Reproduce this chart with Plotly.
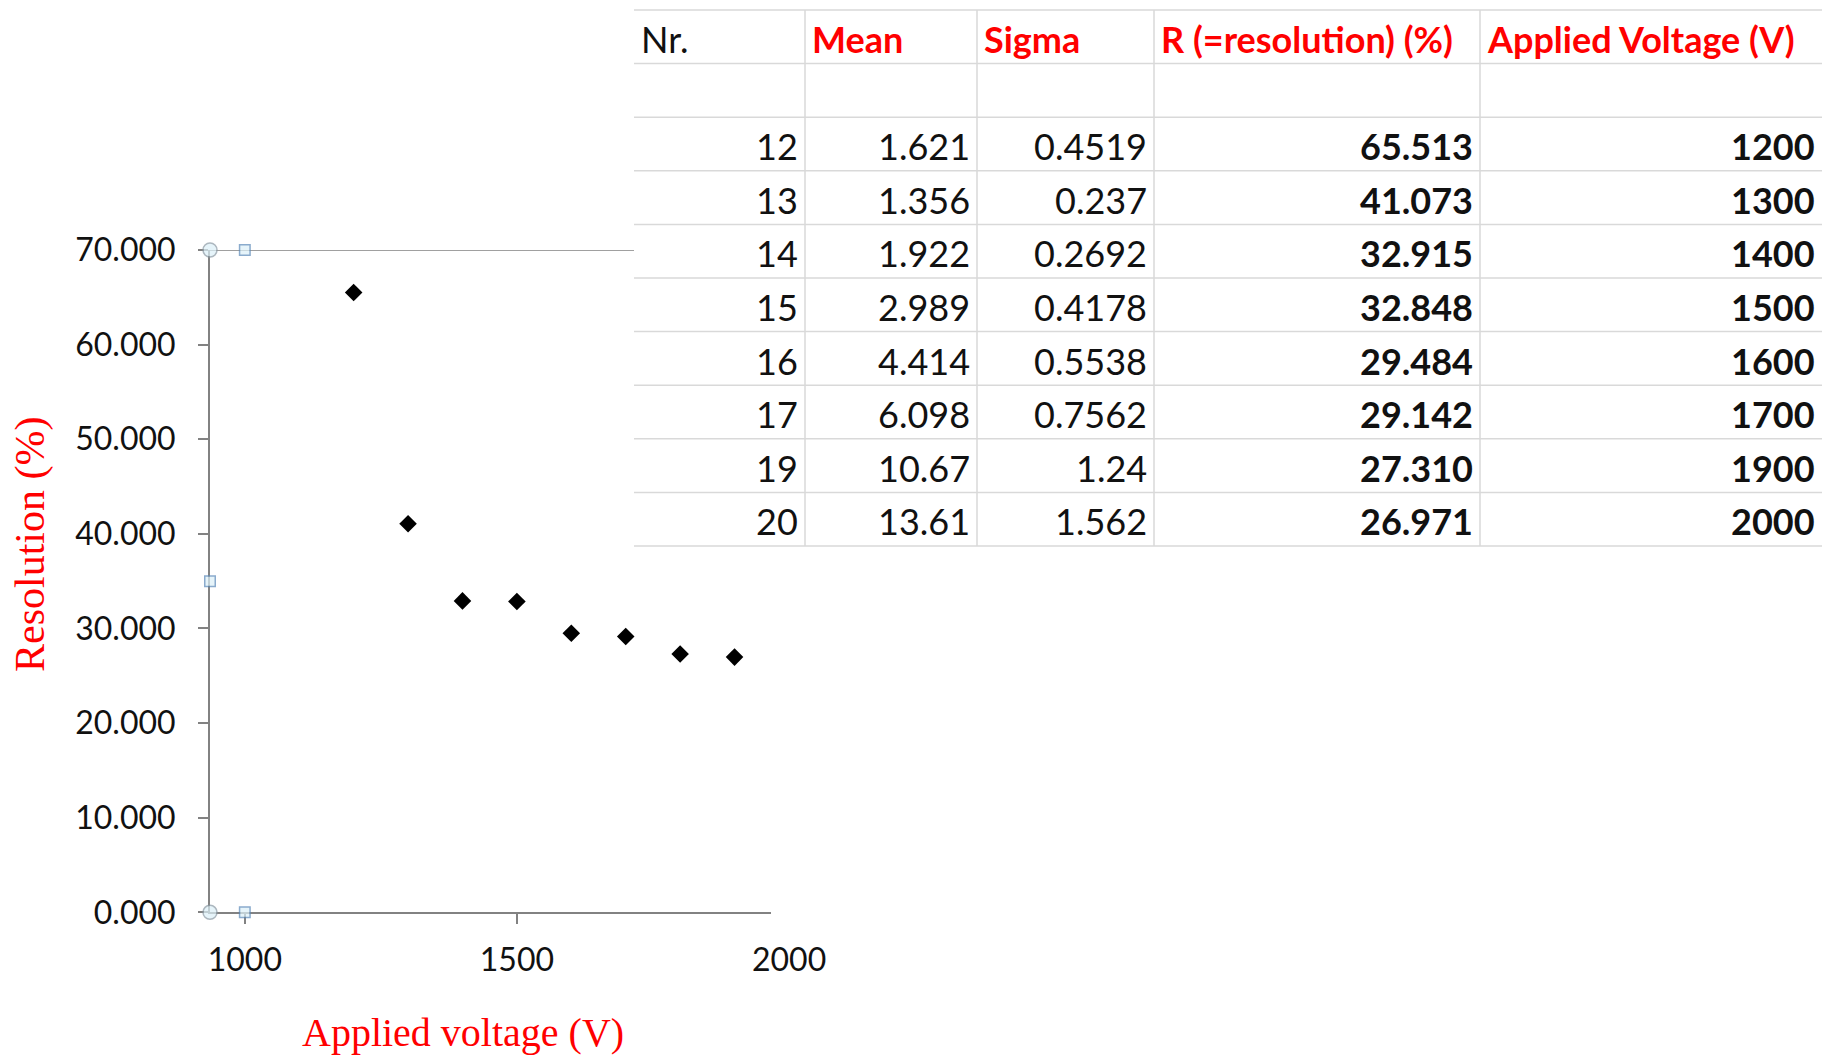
import plotly.graph_objects as go

# Measurement log, one entry per run
run_nr = [12, 13, 14, 15, 16, 17, 19, 20]
mean = [1.621, 1.356, 1.922, 2.989, 4.414, 6.098, 10.67, 13.61]
sigma = [0.4519, 0.237, 0.2692, 0.4178, 0.5538, 0.7562, 1.24, 1.562]
resolution = [65.513, 41.073, 32.915, 32.848, 29.484, 29.142, 27.310, 26.971]
applied_voltage = [1200, 1300, 1400, 1500, 1600, 1700, 1900, 2000]

# Voltages used as the x series of the scatter chart
chart_voltage = [1200, 1300, 1400, 1500, 1600, 1700, 1800, 1900]

headers = ["Nr.", "Mean", "Sigma", "R (=resolution) (%)", "Applied Voltage (V)"]

y_ticks = [0, 10, 20, 30, 40, 50, 60, 70]
x_ticks = [1000, 1500]
x_extra_label = 2000
x_range = [936, 1967]
y_range = [0, 70]

# ---- page geometry (pixels) ----
W, H = 1822, 1058


def px(x):
    return x / W


def py(y):
    return 1 - y / H


PLOT_L, PLOT_R = 210, 771
PLOT_T, PLOT_B = 250, 912.3
x_dom = [px(PLOT_L), px(PLOT_R)]
y_dom = [py(PLOT_B), py(PLOT_T)]

TABLE_COLS = [634, 805, 977, 1154, 1480, 1822]
TABLE_TOP = 10
ROW_H = 53.6
N_ROWS = 10  # header, blank spacer row, 8 data rows

AXIS_GREY = "#828282"
GRID_GREY = "#d9d9d9"
RED = "#ff0000"
TXT = "#111111"
NUM_FONT = "Lato"
SERIF = "Liberation Serif"
TICK_FS = 32

fig = go.Figure()

# Resolution vs. applied voltage
fig.add_trace(go.Scatter(
    x=chart_voltage, y=resolution, mode="markers",
    marker=dict(symbol="diamond", size=13.5, color="black", line=dict(width=0)),
    hoverinfo="x+y", showlegend=False,
))

# Selection handles of the plot area
handle_x = [x_range[0], 1000, x_range[0], x_range[0], 1000]
handle_y = [y_range[1], y_range[1], sum(y_range) / 2, y_range[0], y_range[0]]
handle_sym = ["circle", "square", "square", "circle", "square"]
handle_size = [14, 10.5, 10.5, 14, 10.5]
handle_edge = ["#8a99a4", "#5a88b8", "#5a88b8", "#8a99a4", "#5a88b8"]
fig.add_trace(go.Scatter(
    x=handle_x, y=handle_y, mode="markers", cliponaxis=False,
    marker=dict(symbol=handle_sym, size=handle_size, color="#dcf0f8",
                line=dict(color=handle_edge, width=1.5)),
    hoverinfo="skip", showlegend=False,
))

fig.update_layout(
    template="none",
    width=W, height=H, autosize=False,
    margin=dict(l=0, r=0, t=0, b=0, pad=0),
    paper_bgcolor="white", plot_bgcolor="white",
    xaxis=dict(
        domain=x_dom, range=x_range, tickvals=x_ticks, automargin=False,
        showline=True, linecolor=AXIS_GREY, linewidth=2,
        ticks="outside", ticklen=10, tickwidth=2, tickcolor=AXIS_GREY,
        showgrid=False, zeroline=False, layer="below traces",
        tickfont=dict(family=NUM_FONT, size=TICK_FS, color=TXT),
        ticklabelstandoff=8,
    ),
    yaxis=dict(
        domain=y_dom, range=y_range, tickvals=y_ticks, tickformat=".3f", automargin=False,
        showline=True, linecolor=AXIS_GREY, linewidth=2,
        ticks="outside", ticklen=10, tickwidth=2, tickcolor=AXIS_GREY,
        showgrid=False, zeroline=False, layer="below traces",
        tickfont=dict(family=NUM_FONT, size=TICK_FS, color=TXT),
        ticklabelstandoff=16,
    ),
)

# 2000 label sits past the end of the axis line; place it through the axis scale
x_lab = x_dom[0] + (x_extra_label - x_range[0]) / (x_range[1] - x_range[0]) * (x_dom[1] - x_dom[0])
annotations = [dict(
    x=x_lab, y=py(958), xref="paper", yref="paper", xanchor="center", yanchor="middle",
    text=str(x_extra_label), showarrow=False,
    font=dict(family=NUM_FONT, size=TICK_FS, color=TXT),
)]

# Axis titles
annotations.append(dict(
    x=px(30), y=py(545), xref="paper", yref="paper", xanchor="center", yanchor="middle",
    text="Resolution (%)", textangle=-90, showarrow=False,
    font=dict(family=SERIF, size=42, color=RED),
))
annotations.append(dict(
    x=px(463), y=py(1056), xref="paper", yref="paper", xanchor="center", yanchor="bottom",
    text="Applied voltage (V)", showarrow=False, borderpad=0,
    font=dict(family=SERIF, size=40, color=RED),
))

shapes = []
# Top border of the plot area, running under the worksheet
shapes.append(dict(type="line", xref="paper", yref="y", x0=x_dom[0], x1=px(TABLE_COLS[0]),
                   y0=y_range[1], y1=y_range[1], line=dict(color="#a0a0a0", width=2), layer="below"))

# Worksheet table
tbl_bottom = TABLE_TOP + N_ROWS * ROW_H
for i in range(N_ROWS + 1):
    yy = py(TABLE_TOP + i * ROW_H)
    shapes.append(dict(type="line", xref="paper", yref="paper", x0=px(TABLE_COLS[0]), x1=1,
                       y0=yy, y1=yy, line=dict(color=GRID_GREY, width=1.5), layer="above"))
for cx in TABLE_COLS[1:-1]:
    shapes.append(dict(type="line", xref="paper", yref="paper", x0=px(cx), x1=px(cx),
                       y0=py(TABLE_TOP), y1=py(tbl_bottom), line=dict(color=GRID_GREY, width=1.5), layer="above"))

TXT_DY = 2.2
PAD = 7
TABLE_FS = 36

# Header row
for j, h in enumerate(headers):
    if j == 0:
        txt, col = h, TXT
    else:
        txt, col = "<b>%s</b>" % h, RED
    annotations.append(dict(
        x=px(TABLE_COLS[j] + PAD - 2), y=py(TABLE_TOP + 0.5 * ROW_H + TXT_DY), xref="paper", yref="paper",
        xanchor="left", yanchor="middle", text=txt, showarrow=False,
        font=dict(family=NUM_FONT, size=TABLE_FS, color=col),
    ))

# Data rows (row 1 is an empty spacer row)
for i in range(len(run_nr)):
    cells = [
        str(run_nr[i]),
        str(mean[i]),
        str(sigma[i]),
        "<b>%.3f</b>" % resolution[i],
        "<b>%d</b>" % applied_voltage[i],
    ]
    yc = py(TABLE_TOP + (i + 2.5) * ROW_H + TXT_DY)
    for j, c in enumerate(cells):
        annotations.append(dict(
            x=px(TABLE_COLS[j + 1] - PAD + 2), y=yc, xref="paper", yref="paper",
            xanchor="right", yanchor="middle", text=c, showarrow=False,
            font=dict(family=NUM_FONT, size=TABLE_FS, color=TXT),
        ))

fig.update_layout(annotations=annotations, shapes=shapes)

fig.write_html("out.html")
